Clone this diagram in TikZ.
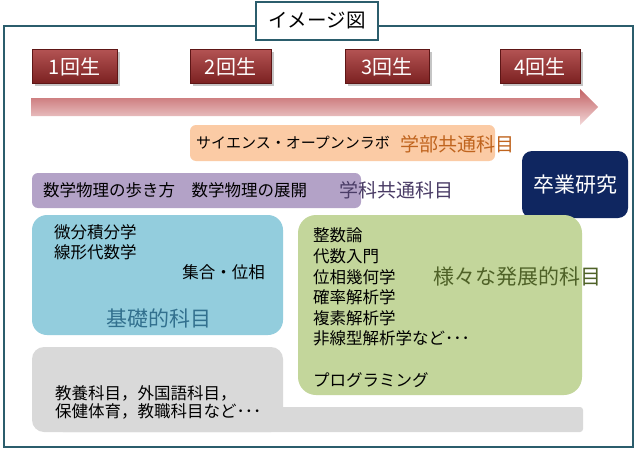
\documentclass[tikz,border=0pt]{standalone}
\usepackage{fontspec}
\setmainfont{Noto Sans CJK JP}
\usetikzlibrary{shadows}
\definecolor{framecol}{HTML}{2B5D6C}
\definecolor{yrtop}{HTML}{B25252}
\definecolor{yrmid}{HTML}{943232}
\definecolor{yrbot}{HTML}{7A2020}
\definecolor{yrdraw}{HTML}{5E1616}
\definecolor{arrtop}{HTML}{C26264}
\definecolor{arrbot}{HTML}{F3D8D9}
\definecolor{orangebox}{HTML}{FBCBA5}
\definecolor{orangelbl}{HTML}{C0641E}
\definecolor{purplebox}{HTML}{B3A2C7}
\definecolor{purplelbl}{HTML}{4A3C66}
\definecolor{navybox}{HTML}{0F2660}
\definecolor{bluebox}{HTML}{93CDDD}
\definecolor{bluelbl}{HTML}{32708E}
\definecolor{greenbox}{HTML}{C3D69B}
\definecolor{greenlbl}{HTML}{4F6228}
\definecolor{graybox}{HTML}{D9D9D9}
\tikzset{
  yearbox/.style={minimum height=34pt, inner sep=0pt, top color=yrtop, middle color=yrmid, bottom color=yrbot,
    draw=yrdraw, line width=1pt, text=white, font=\fontsize{20}{24}\selectfont,
    drop shadow={shadow xshift=2.5pt, shadow yshift=-2.5pt, opacity=0.45}},
  titlebox/.style={draw=framecol, line width=2pt, fill=white, minimum width=122pt,
    minimum height=38pt, inner sep=0pt, font=\fontsize{19.5}{22}\selectfont},
  bodytxt/.style={anchor=west, inner sep=0pt, font=\fontsize{16.5}{20}\selectfont},
  smalltxt/.style={anchor=west, inner sep=0pt, font=\fontsize{15}{18}\selectfont},
  biglbl/.style={inner sep=0pt, font=\fontsize{21}{24}\selectfont},
  midlbl/.style={anchor=west, inner sep=0pt, font=\fontsize{19}{22}\selectfont},
}
\begin{document}
\begin{tikzpicture}[x=1pt,y=-1pt]
\useasboundingbox (0,0) rectangle (640,460);
\fill[white] (0,0) rectangle (640,460);
% outer frame
\draw[framecol, line width=2pt] (4,26) rectangle (633,447);
\node[titlebox] (title) at (317,21) {イメージ図};
% year boxes
\node[yearbox, minimum width=85pt] (y1) at (74.5,67) {1回生};
\node[yearbox, minimum width=81pt] (y2) at (230.5,67) {2回生};
\node[yearbox, minimum width=84pt] (y3) at (387,67) {3回生};
\node[yearbox, minimum width=80pt] (y4) at (540,67) {4回生};
% timeline arrow
\shade[top color=arrtop, bottom color=arrbot]
  (31,98) -- (580,98) -- (580,89) -- (598,107) -- (580,125) -- (580,116) -- (31,116) -- cycle;
% orange band
\fill[orangebox, rounded corners=6pt] (190,125) rectangle (495,161);
\node[smalltxt] (sol) at (196,143) {サイエンス・オープンンラボ};
\node[midlbl, text=orangelbl] (gakubu) at (400,144) {学部共通科目};
% purple band
\fill[purplebox, rounded corners=6pt] (32,173) rectangle (361,208);
\node[bodytxt] (math) at (43,190) {数学物理の歩き方　数学物理の展開};
\node[midlbl, text=purplelbl] (gakka) at (339,190) {学科共通科目};
% graduation research
\node[fill=navybox, rounded corners=10pt, minimum width=106pt, minimum height=67pt,
  inner sep=0pt, text=white, font=\fontsize{21}{24}\selectfont] (sotsu) at (575,184.5) {卒業研究};
% blue box
\fill[bluebox, rounded corners=15pt] (32,215) rectangle (283,335);
\node[bodytxt] (b1) at (54,232) {微分積分学};
\node[bodytxt] (b2) at (54,252) {線形代数学};
\node[bodytxt, anchor=east] (b3) at (265,272) {集合・位相};
\node[biglbl, text=bluelbl] (kiso) at (158.5,318) {基礎的科目};
% gray shape
\fill[graybox, rounded corners=12pt] (32,347) rectangle (283,432);
\fill[graybox, rounded corners=3pt] (60,407) rectangle (583,432);
\node[bodytxt] (g1) at (55,393) {教養科目，外国語科目，};
\node[bodytxt] (g2) at (55,411) {保健体育，教職科目など･･･};
% green box
\fill[greenbox, rounded corners=18pt] (298,215) rectangle (582,395);
\node[bodytxt] (e1) at (313,235) {整数論};
\node[bodytxt] (e2) at (313,256) {代数入門};
\node[bodytxt] (e3) at (313,277) {位相幾何学};
\node[bodytxt] (e4) at (313,297) {確率解析学};
\node[bodytxt] (e5) at (313,318) {複素解析学};
\node[bodytxt] (e6) at (313,338) {非線型解析学など･･･};
\node[bodytxt] (e7) at (313,380) {プログラミング};
\node[biglbl, anchor=west, text=greenlbl] (hatten) at (433,277) {様々な発展的科目};
\end{tikzpicture}
\end{document}
